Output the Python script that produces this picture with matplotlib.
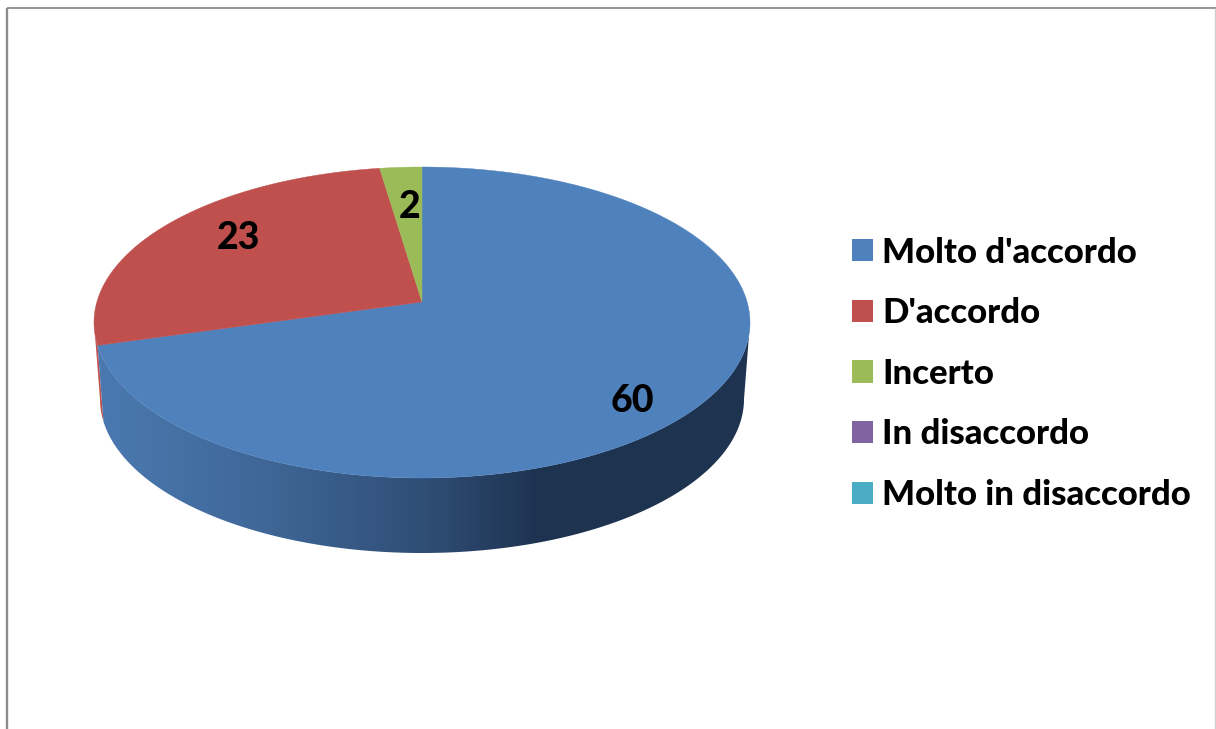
import matplotlib.pyplot as plt
from matplotlib.colors import LinearSegmentedColormap
from matplotlib.patches import Patch, Polygon
import numpy as np

plt.rcParams['font.family'] = ['Lato', 'DejaVu Sans']

# data
categories = ["Molto d'accordo", "D'accordo", "Incerto", "In disaccordo", "Molto in disaccordo"]
values = [60, 23, 2, 0, 0]
colors = ["#4F81BD", "#C0504D", "#9BBB59", "#8064A2", "#4BACC6"]
label_pos = [(632, 401), (238, 238), (410, 207)]

wall_x = [95, 250, 420, 540, 750]
wall_colors = ["#4B79B0", "#40699A", "#304F77", "#1E3350", "#1F3450"]

# ellipses in pixels: top face and bottom rim of the disc
cx = 422
top_cy, top_a, top_b = 322.5, 328, 155.5
bot_cy, bot_a, bot_b = 399, 322, 154
tilt = 0.132  # moves the pie centre up, the perspective of the 3d view


def rim(angle, cy, a, b):
    # angle in degrees, clockwise from the top
    t = np.radians(angle)
    u, v = np.sin(t), np.cos(t)
    d = 1 + tilt * v
    return cx + a * u * np.sqrt(1 - tilt ** 2) / d, cy - b * (v + tilt) / d


def arc(start, stop, cy, a, b):
    x, y = rim(np.linspace(start, stop, 300), cy, a, b)
    return np.column_stack([x, y])


fig = plt.figure(figsize=(12.16, 7.29), dpi=100)
ax = fig.add_axes([0, 0, 1, 1])
ax.set_xlim(0, 1216)
ax.set_ylim(729, 0)
ax.axis('off')

# frame, there is no bottom line in the picture
ax.plot([7, 7], [729, 7.5], color="#8C8C8C", lw=1.7, solid_capstyle='butt')
ax.plot([7, 1216], [7.5, 7.5], color="#8C8C8C", lw=1.3, solid_capstyle='butt')
ax.plot([1215, 1215], [7.5, 729], color="#D0D0D0", lw=1, solid_capstyle='butt')

edges = np.cumsum([0] + values) / sum(values) * 360

# wall of the disc. angle of the extreme left/right of the ellipse
left_ang = 270 - np.degrees(np.arcsin(tilt))
right_ang = 90 + np.degrees(np.arcsin(tilt))

red_wall = np.vstack([arc(left_ang, edges[1], top_cy, top_a, top_b),
                      arc(edges[1], left_ang, bot_cy, bot_a, bot_b)])
ax.add_patch(Polygon(red_wall, closed=True, fc=colors[1], lw=0, zorder=2))

blue_wall = np.vstack([arc(right_ang, edges[1], top_cy, top_a, top_b),
                       arc(edges[1], right_ang, bot_cy, bot_a, bot_b)])
clip = Polygon(blue_wall, closed=True, transform=ax.transData)
cmap = LinearSegmentedColormap.from_list(
    "wall", [((x - wall_x[0]) / (wall_x[-1] - wall_x[0]), c) for x, c in zip(wall_x, wall_colors)])
grad = ax.imshow(np.linspace(0, 1, 512)[None, :], extent=(wall_x[0], wall_x[-1], 560, 300),
                 cmap=cmap, aspect='auto', zorder=3, interpolation='bilinear')
grad.set_clip_path(clip)
ax.set_xlim(0, 1216)
ax.set_ylim(729, 0)

# top face
for i in range(len(values)):
    if values[i] == 0:
        continue
    pts = arc(edges[i], edges[i + 1], top_cy, top_a, top_b)
    pts = np.vstack([pts, [cx, top_cy - top_b * tilt]])
    ax.add_patch(Polygon(pts, closed=True, fc=colors[i], ec=colors[i], lw=0.3, zorder=4))

for v, (x, y) in zip(values, label_pos):
    ax.text(x, y, str(v), fontsize=27, fontweight='black', color='black',
            ha='center', va='center', zorder=5)

handles = [Patch(fc=c, lw=0) for c in colors]
fs = 25
px = fs * 100 / 72
ax.legend(handles, categories, loc='upper left', bbox_to_anchor=(852, 236.5), bbox_transform=ax.transData,
          frameon=False, prop={'weight': 'black', 'size': fs},
          handlelength=21 / px, handleheight=21 / px, handletextpad=9 / px,
          labelspacing=28.6 / px, borderpad=0, borderaxespad=0)

fig.savefig("out.png", dpi=100)
